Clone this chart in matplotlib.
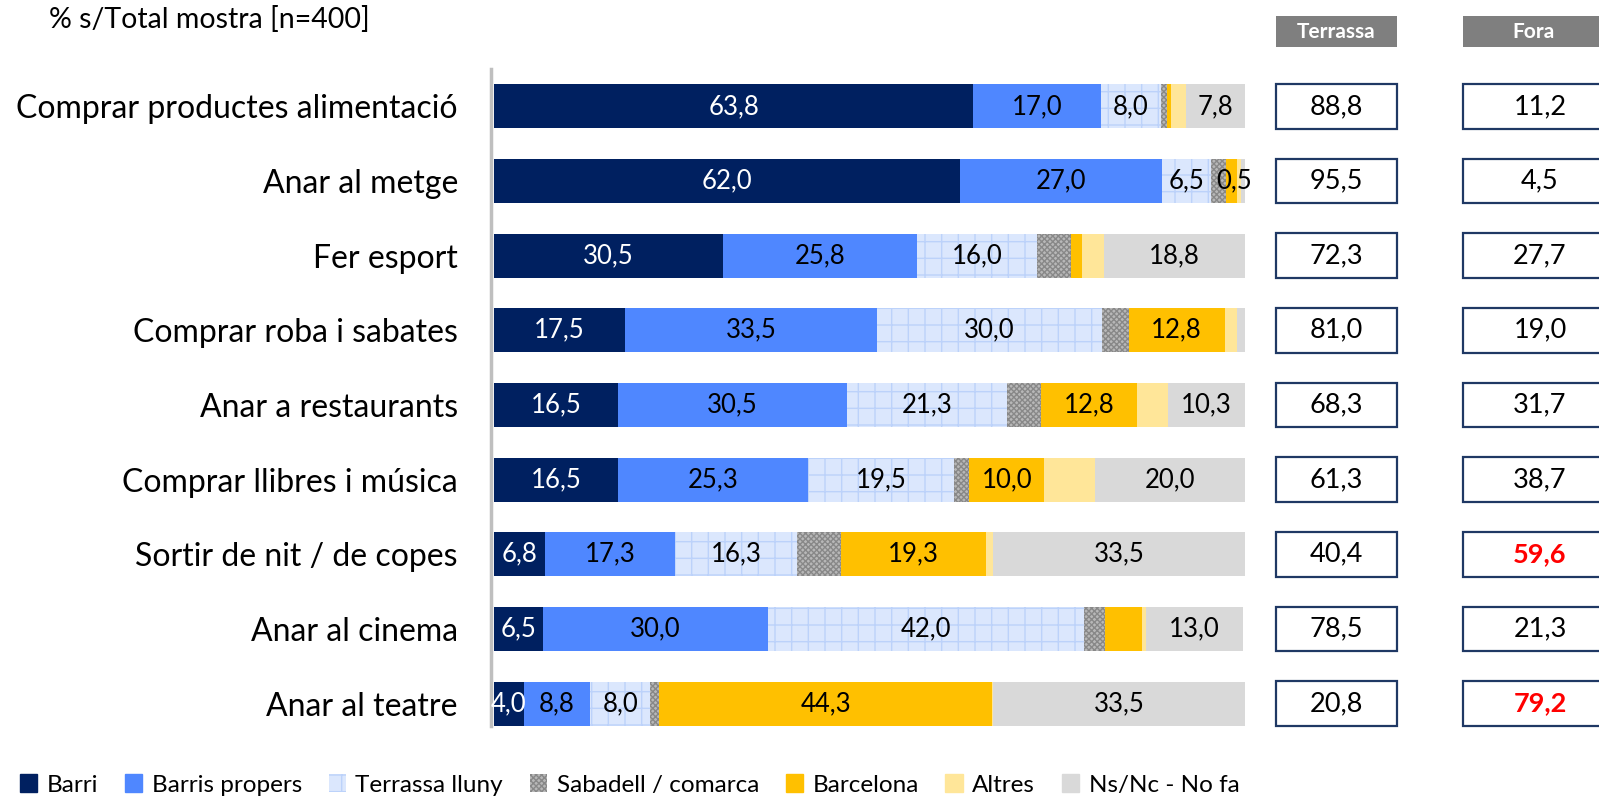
import matplotlib
matplotlib.use('Agg')
import matplotlib.pyplot as plt
from matplotlib.patches import Rectangle, Patch
import numpy as np

plt.rcParams['font.family'] = ['Lato', 'DejaVu Sans']

categories = ["Comprar productes alimentació", "Anar al metge", "Fer esport",
              "Comprar roba i sabates", "Anar a restaurants", "Comprar llibres i música",
              "Sortir de nit / de copes", "Anar al cinema", "Anar al teatre"]
series_names = ["Barri", "Barris propers", "Terrassa lluny", "Sabadell / comarca",
                "Barcelona", "Altres", "Ns/Nc - No fa"]
barri = [63.8, 62.0, 30.5, 17.5, 16.5, 16.5, 6.8, 6.5, 4.0]
barris_propers = [17.0, 27.0, 25.8, 33.5, 30.5, 25.3, 17.3, 30.0, 8.8]
terrassa_lluny = [8.0, 6.5, 16.0, 30.0, 21.3, 19.5, 16.3, 42.0, 8.0]
sabadell = [0.8, 2.0, 4.5, 3.5, 4.5, 2.0, 5.8, 2.8, 1.2]
barcelona = [0.5, 1.5, 1.5, 12.8, 12.8, 10.0, 19.3, 5.0, 44.3]
altres = [2.1, 0.5, 2.9, 1.7, 4.1, 6.7, 1.0, 0.5, 0.2]
nsnc = [7.8, 0.5, 18.8, 1.0, 10.3, 20.0, 33.5, 13.0, 33.5]
terrassa_total = [88.8, 95.5, 72.3, 81.0, 68.3, 61.3, 40.4, 78.5, 20.8]
fora_total = [11.2, 4.5, 27.7, 19.0, 31.7, 38.7, 59.6, 21.3, 79.2]
title = "% s/Total mostra [n=400]"
col_headers = ["Terrassa", "Fora"]

series = [barri, barris_propers, terrassa_lluny, sabadell, barcelona, altres, nsnc]
styles = [
    dict(color='#002060'),
    dict(color='#4f87ff'),
    dict(facecolor='#dbe7fd', edgecolor='#bcd2fa', hatch='+', linewidth=0),
    dict(facecolor='#b8b8b8', edgecolor='#888888', hatch='xxxxxx', linewidth=0),
    dict(color='#ffc000'),
    dict(color='#ffe699'),
    dict(color='#d9d9d9'),
]
txt_colors = ['white', 'black', 'black', 'black', 'black', 'black', 'black']

W, H = 1599, 797
fig = plt.figure(figsize=(W / 100, H / 100), dpi=100)

ax_left, ax_right = 494, 1245
ax_top, ax_bot = 69, 726
ax = fig.add_axes([ax_left / W, 1 - ax_bot / H, (ax_right - ax_left) / W, (ax_bot - ax_top) / H])
ax.spines['left'].set_position(('outward', 2))
ylo, yhi = 8.3, -0.5
ax.set_ylim(ylo, yhi)
ax.set_xlim(0, 100)

y = np.arange(len(categories))
bh = 0.59
left = np.zeros(len(categories))
lefts = []
for vals, st in zip(series, styles):
    v = np.array(vals)
    ax.barh(y, v, left=left, height=bh, **st)
    lefts.append(left.copy())
    left = left + v

fs_num = 18.5
for si, vals in enumerate(series):
    for ri, v in enumerate(vals):
        show = si in (0, 1, 2) or (si in (4, 6) and v >= 7)
        if show:
            ax.text(lefts[si][ri] + v / 2, y[ri], f"{v:.1f}".replace('.', ','),
                    ha='center', va='center', fontsize=fs_num, color=txt_colors[si])
ri = 1
xc = lefts[4][ri] + (barcelona[ri] + altres[ri]) / 2
ax.text(xc, y[ri], f"{altres[ri]:.1f}".replace('.', ','), ha='center', va='center',
        fontsize=fs_num, color='black')

ax.set_yticks(y)
ax.set_yticklabels(categories)
ax.tick_params(axis='y', length=0, pad=24, labelsize=23)
ax.set_xticks([])
for s in ['top', 'right', 'bottom']:
    ax.spines[s].set_visible(False)
ax.spines['left'].set_color('#bfbfbf')
ax.spines['left'].set_linewidth(2.5)

px_per_row = (ax_bot - ax_top) / (ylo - yhi)
ax2 = fig.add_axes([ax_right / W, 0, (W - ax_right) / W, 1])
ax2.set_xlim(ax_right, W)
ax2.set_ylim(ylo + (H - ax_bot) / px_per_row, yhi - ax_top / px_per_row)
ax2.axis('off')

cols = [(1276, 121, 121, terrassa_total, False), (1463, 154, 140, fora_total, True)]
hdr_y = -1.0
for (x0, w, hw, vals, highlight), name in zip(cols, col_headers):
    ax2.add_patch(Rectangle((x0, hdr_y - 0.21), hw, 0.42,
                            facecolor='#7f7f7f', edgecolor='none', clip_on=False))
    ax2.text(x0 + hw / 2, hdr_y, name, ha='center', va='center',
             fontsize=15, fontweight='bold', color='white')
    for ri, v in enumerate(vals):
        ax2.add_patch(Rectangle((x0, y[ri] - 0.3), w, 0.6, facecolor='white',
                                edgecolor='#1f3864', linewidth=1.6, clip_on=False))
        red = highlight and v > 50
        ax2.text(x0 + w / 2, y[ri], f"{v:.1f}".replace('.', ','), ha='center', va='center',
                 fontsize=19.5, color='#ff0000' if red else 'black',
                 fontweight='bold' if red else 'normal')

fig.text(49 / W, 1 - 19 / H, title, ha='left', va='center', fontsize=20.5)

handles = [Patch(**st) for st in styles]
fig.legend(handles, series_names, loc='center left', bbox_to_anchor=(20 / W, 1 - 785 / H),
           ncol=7, frameon=False, fontsize=17.5, handlelength=0.7, handleheight=0.7,
           handletextpad=0.4, columnspacing=1.1, borderpad=0, borderaxespad=0)

fig.savefig('out.png', dpi=100)
